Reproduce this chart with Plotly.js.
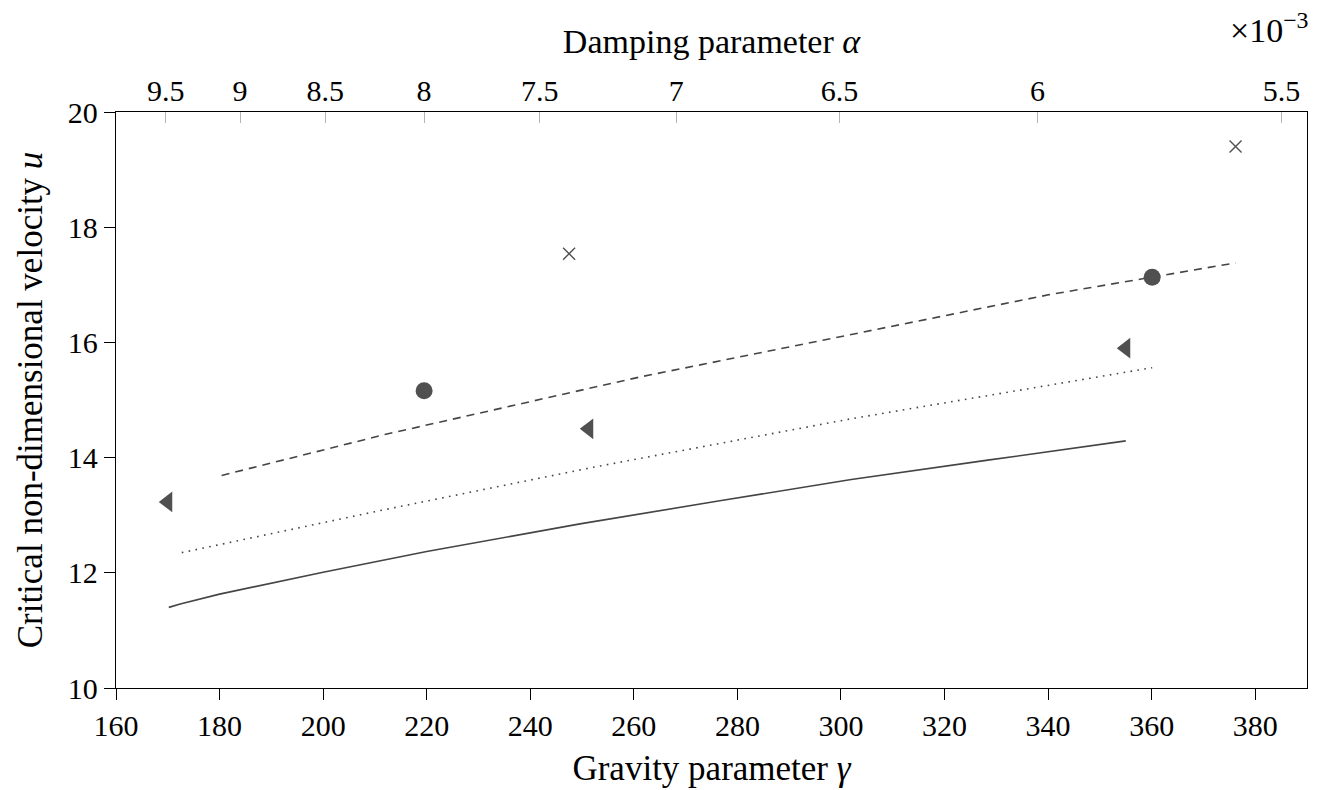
<!DOCTYPE html>
<html>
<head>
<meta charset="utf-8">
<script src="https://cdn.plot.ly/plotly-3.0.1.min.js"></script>
<style>
  html, body { margin: 0; padding: 0; background: #fff; }
  #chart { width: 1325px; height: 790px; }
</style>
</head>
<body>
<div id="chart"></div>
<script>
// Critical velocity curves against the gravity parameter
const solidGamma = [170.2, 172.4, 180.0, 200.0, 220.0, 230.3, 240.0, 249.6, 276.6, 302.0, 328.7, 355.0];
const solidU     = [11.40, 11.46, 11.63, 12.01, 12.37, 12.54, 12.70, 12.85, 13.25, 13.62, 13.96, 14.29];

const dottedGamma = [172.7, 212.6, 252.6, 301.7, 323.3, 360.1];
const dottedU     = [12.35, 13.11, 13.84, 14.67, 15.00, 15.56];

const dashedGamma = [180.4, 211.9, 240.4, 261.2, 340.3, 376.2];
const dashedU     = [13.69, 14.40, 14.98, 15.40, 16.83, 17.38];

// Discrete results
const triGamma = [170.0, 251.3, 355.0];
const triU     = [13.23, 14.50, 15.90];

const circGamma = [219.5, 360.1];
const circU     = [15.16, 17.13];

const crossGamma = [247.5, 376.2];
const crossU     = [17.54, 19.40];

// Bottom axis ticks
const gammaTicks = [160, 180, 200, 220, 240, 260, 280, 300, 320, 340, 360, 380];
const uTicks = [10, 12, 14, 16, 18, 20];

// Top axis: damping parameter (x 10^-3), alpha = C * gamma^(-2/3)
const alphaTicks = [9.5, 9, 8.5, 8, 7.5, 7, 6.5, 6, 5.5];
const alphaLabels = ['9.5', '9', '8.5', '8', '7.5', '7', '6.5', '6', '5.5'];
const ALPHA_C = 291.1;
const gammaOfAlpha = a => Math.pow(ALPHA_C / a, 1.5);

const FONT = "'Liberation Serif', 'Times New Roman', 'DejaVu Serif', serif";
const INK = '#454545';
const MARK = '#505050';

const traces = [
  { x: solidGamma, y: solidU, mode: 'lines', line: { color: INK, width: 1.6 }, hoverinfo: 'skip' },
  { x: dottedGamma, y: dottedU, mode: 'lines', line: { color: INK, width: 1.6, dash: '1.6px,5.4px' }, hoverinfo: 'skip' },
  { x: dashedGamma, y: dashedU, mode: 'lines', line: { color: INK, width: 1.6, dash: '8px,6px' }, hoverinfo: 'skip' },
  { x: triGamma, y: triU, mode: 'markers', marker: { symbol: 'triangle-left', size: 18, color: MARK }, hoverinfo: 'skip' },
  { x: circGamma, y: circU, mode: 'markers', marker: { symbol: 'circle', size: 17, color: MARK }, hoverinfo: 'skip' },
  { x: crossGamma, y: crossU, mode: 'markers', marker: { symbol: 'x-thin', size: 12, color: MARK, line: { color: MARK, width: 1.4 } }, hoverinfo: 'skip' },
  // carries the top axis
  { x: [160, 390], y: [10, 10], xaxis: 'x2', mode: 'markers', marker: { opacity: 0 }, hoverinfo: 'skip' }
];

const layout = {
  width: 1325,
  height: 790,
  paper_bgcolor: '#fff',
  plot_bgcolor: '#fff',
  showlegend: false,
  margin: { l: 116, r: 18, t: 112, b: 102 },
  font: { family: FONT, size: 29, color: '#000' },
  xaxis: {
    range: [160, 390],
    tickvals: gammaTicks,
    ticktext: gammaTicks.map(String),
    ticks: 'outside', ticklen: 11, tickwidth: 1, tickcolor: '#000',
    showline: true, linecolor: '#000', linewidth: 1.2, mirror: true,
    showgrid: false, zeroline: false,
    tickfont: { family: FONT, size: 30, color: '#000' },
    title: { text: 'Gravity parameter <i>γ</i>', font: { family: FONT, size: 35, color: '#000' }, standoff: 14 },
    automargin: false
  },
  xaxis2: {
    overlaying: 'x', side: 'top', anchor: 'y',
    range: [160, 390],
    tickvals: alphaTicks.map(gammaOfAlpha),
    ticktext: alphaLabels,
    ticks: 'inside', ticklen: 11, tickwidth: 1, tickcolor: '#b4b4b4',
    ticklabelstandoff: 4,
    showline: false, showgrid: false, zeroline: false,
    tickfont: { family: FONT, size: 30, color: '#000' },
    title: { text: 'Damping parameter <i>α</i>', font: { family: FONT, size: 34, color: '#000' }, standoff: 10 },
    automargin: false
  },
  yaxis: {
    range: [10, 20],
    tickvals: uTicks,
    ticktext: uTicks.map(String),
    ticks: 'outside', ticklen: 11, tickwidth: 1, tickcolor: '#000',
    showline: true, linecolor: '#000', linewidth: 1.2, mirror: true,
    showgrid: false, zeroline: false,
    tickfont: { family: FONT, size: 30, color: '#000' },
    title: { text: 'Critical non-dimensional velocity <i>u</i>', font: { family: FONT, size: 35, color: '#000' }, standoff: 14 },
    automargin: false
  },
  annotations: [
    {
      xref: 'paper', yref: 'paper', x: 1.003, y: 1.0, yshift: 84,
      xanchor: 'right', yanchor: 'middle', showarrow: false,
      text: '×10<sup>−3</sup>',
      font: { family: FONT, size: 34, color: '#000' }
    }
  ]
};

Plotly.newPlot('chart', traces, layout, { displayModeBar: false, staticPlot: true });
</script>
</body>
</html>
